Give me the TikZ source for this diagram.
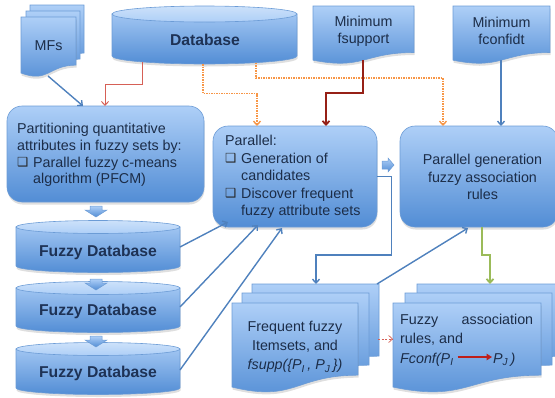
\documentclass[tikz,border=0pt]{standalone}
\usepackage{fontspec}
\setmainfont{Liberation Sans}
\newfontfamily\djv{DejaVu Sans}
\usetikzlibrary{arrows.meta,shadows}
\definecolor{bxtop}{RGB}{174,207,247}
\definecolor{bxbot}{RGB}{82,141,213}
\definecolor{bxline}{RGB}{108,156,214}
\definecolor{txt}{RGB}{28,45,72}
\definecolor{txtb}{RGB}{30,50,85}
\definecolor{cblue}{RGB}{79,129,189}
\definecolor{cred}{RGB}{214,96,86}
\definecolor{corange}{RGB}{247,150,70}
\definecolor{cdred}{RGB}{150,32,22}
\definecolor{cgreen}{RGB}{155,187,89}
\definecolor{cyltopc}{RGB}{204,225,250}
\definecolor{inred}{RGB}{190,30,25}
\newcommand{\bul}{\makebox[16pt][l]{\raisebox{0.5pt}{\djv\fontsize{12.5}{12}\selectfont\color{black!85}❑}}}
% style, x1, top, x2, h
\newcommand{\docshape}[5]{%
  \path[#1] (#2,#3) -- (#4,#3) -- (#4,{#3+0.802*#5})
    .. controls ({(#2+#4)/2},{#3+0.802*#5}) and ({(#2+#4)/2},{#3+1.107*#5}) .. (#2,{#3+0.934*#5}) -- cycle;}
% x1, x2, top centre, bottom centre, ry
\newcommand{\cylshape}[5]{%
  \path[cylbody] (#1,#3) -- (#1,#4) arc[start angle=180,end angle=0,x radius={(#2-#1)/2},y radius=#5] -- (#2,#3) -- cycle;
  \path[cyltop] ({(#1+#2)/2},#3) ellipse[x radius={(#2-#1)/2},y radius=#5];}
\begin{document}
\begin{tikzpicture}[x=1pt,y=-1pt,
  font=\fontsize{14.3}{16.7}\selectfont, text=txt,
  shad/.style={drop shadow={shadow xshift=0.5pt,shadow yshift=-2.5pt,opacity=0.25}},
  box/.style={draw=bxline,line width=0.6pt,top color=bxtop,bottom color=bxbot,rounded corners=15pt,shad},
  doc/.style={draw=bxline,line width=0.6pt,top color=bxtop,bottom color=bxbot},
  docf/.style={doc,shad},
  cylbody/.style={draw=bxline,line width=0.6pt,top color=bxtop!85!bxbot,bottom color=bxbot,shad},
  cyltop/.style={draw=bxline,line width=0.6pt,top color=cyltopc,bottom color=bxtop},
  barrow/.style={draw=bxline,line width=0.5pt,top color=bxtop,bottom color=bxbot},
  dbtext/.style={font=\bfseries\fontsize{15.7}{18}\selectfont,text=txtb},
  tip/.style={-{Straight Barb[length=3.8pt,width=7pt]}},
  cb/.style={tip,draw=cblue,line width=1.4pt},
  cr/.style={tip,draw=cred,line width=1pt},
  co/.style={tip,draw=corange,line width=1.4pt,dash pattern=on 1.5pt off 1pt},
  cd/.style={tip,draw=cdred,line width=1.8pt},
  cg/.style={tip,draw=cgreen,line width=1.8pt}]
\useasboundingbox (0,0) rectangle (555,397);

% MFs stack
\docshape{doc}{30}{5}{84}{60}
\docshape{doc}{26}{11}{80}{60}
\docshape{docf}{21}{17}{76}{60}
\node (mfs) at (48.5,46) {MFs};

% Database cylinder
\cylshape{112}{297}{14}{56}{8}
\node[dbtext] (db) at (205,40) {Database};

% Minimum documents
\docshape{docf}{313}{6}{414}{58}
\node[align=center] (fsup) at (363.5,31) {Minimum\\fsupport};
\docshape{docf}{453}{6}{550}{58}
\node[align=center] (fconf) at (501.5,31) {Minimum\\fconfidt};

% Boxes
\node[box,minimum width=197pt,minimum height=96pt] (part) at (105.5,154) {};
\node[anchor=west,align=left,inner sep=0pt] (parttxt) at (17,155)
 {Partitioning quantitative\\attributes in fuzzy sets by:\\\bul Parallel fuzzy c-means\\\hspace*{16pt}algorithm (PFCM)};
\node[box,minimum width=164pt,minimum height=101pt] (par) at (295,176.5) {};
\node[anchor=west,align=left,inner sep=0pt,font=\fontsize{14.3}{17.5}\selectfont] (partxt) at (225,177)
 {Parallel:\\\bul Generation of\\\hspace*{16pt}candidates\\\bul Discover frequent\\\hspace*{16pt}fuzzy attribute sets};
\node[box,minimum width=158pt,minimum height=101pt] (gen) at (479,176.5) {};
\node[align=center,font=\fontsize{14.3}{17.2}\selectfont] (gentxt) at (482.5,177) {Parallel generation\\fuzzy association\\rules};

% Fuzzy database cylinders
\cylshape{16}{180}{227}{266}{6.5}
\node[dbtext] (fdb1) at (98,252) {Fuzzy Database};
\cylshape{16}{180}{288}{326}{6.5}
\node[dbtext] (fdb2) at (98,311) {Fuzzy Database};
\cylshape{16}{180}{349}{388}{6.5}
\node[dbtext] (fdb3) at (98,373) {Fuzzy Database};

% block arrows
\path[barrow] (90,206) -- (102,206) -- (102,210) -- (107,210) -- (96,217) -- (85,210) -- (90,210) -- cycle;
\path[barrow] (90,279) -- (102,279) -- (102,283) -- (107,283) -- (96,290) -- (85,283) -- (90,283) -- cycle;
\path[barrow] (90,336) -- (102,336) -- (102,340) -- (107,340) -- (96,347) -- (85,340) -- (90,340) -- cycle;
\path[barrow] (382,161) -- (388,161) -- (388,158) -- (394,165) -- (388,172) -- (388,169) -- (382,169) -- cycle;

% Frequent itemsets stack
\docshape{doc}{252}{284}{379}{90}
\docshape{doc}{242}{293}{369}{90}
\docshape{docf}{232}{303}{358}{90}
\node[align=center,font=\fontsize{14.3}{19.3}\selectfont] (freq) at (295,347)
 {Frequent fuzzy\\Itemsets, and\\\itshape fsupp(\{P\textsubscript{I}\,, P\textsubscript{J}\,\})};

% Fuzzy association rules stack
\docshape{doc}{417}{284}{565}{90}
\docshape{doc}{405}{293}{552}{90}
\docshape{docf}{393}{303}{541}{90}
\node[anchor=base west,inner sep=0pt] (r1) at (400,324) {\makebox[133pt][s]{Fuzzy association}};
\node[anchor=base west,inner sep=0pt] (r2) at (400,343.5) {rules, and};
\node[anchor=base west,inner sep=0pt] (r3a) at (400,363) {\itshape Fconf(P\textsubscript{I}};
\node[anchor=base west,inner sep=0pt] (r3b) at (493,363) {\itshape P\textsubscript{J}\,)};
\draw[inred,line width=1.8pt,-{Triangle[length=5.5pt,width=6.5pt]}] ([xshift=4pt,yshift=6pt]r3a.base east) -- ([xshift=-1pt,yshift=6pt]r3b.base west);

% connector end points
\coordinate (mfs-o) at (48,76);
\coordinate (part-i1) at (83,106);
\coordinate (db-o1) at (142,62);
\coordinate (part-i2) at (105,106);
\coordinate (db-o2) at (203,64);
\coordinate (par-i1) at (257,126);
\coordinate (db-o3) at (256,62.6);
\coordinate (gen-i1) at (443,126);
\coordinate (fs-o) at (363,60);
\coordinate (par-i2) at (326,126);
\coordinate (fc-o) at (501,60);
\coordinate (gen-i2) at (501,126);
\coordinate (freq-i) at (316,284);
\coordinate (freq-o) at (377,284);
\coordinate (gen-i3) at (468,228);
\coordinate (gen-o) at (482,227);
\coordinate (rules-i) at (490,284);
\coordinate (freq-o2) at (378,339);
\coordinate (rules-i2) at (393,339);
\coordinate (f1-o) at (180,247);
\coordinate (par-i3) at (228,222);
\coordinate (f2-o) at (180,307);
\coordinate (par-i4) at (258,225);
\coordinate (f3-o) at (180,370);
\coordinate (par-i5) at (282,228);

% connectors
\draw[cb] (mfs-o) -- (part-i1);
\draw[cr] (db-o1) -- ++(0,22) -| (part-i2);
\draw[co] (db-o2) -- ++(0,29.5) -| (par-i1);
\draw[co] (db-o3) -- ++(0,15.5) -| (gen-i1);
\draw[cd] (fs-o) -- ++(0,33) -| (par-i2);
\draw[cb] (fc-o) -- (gen-i2);
\draw[cb] (par.east) -- ++(14,0) -- ++(0,78.5) -| (freq-i);
\draw[cb] (freq-o) -- (gen-i3);
\draw[cg] (gen-o) -- ++(0,28) -| (rules-i);
\draw[tip,draw=cred,line width=0.7pt,dash pattern=on 2pt off 1.5pt] (freq-o2) -- (rules-i2);
\draw[cb] (f1-o) -- (par-i3);
\draw[cb] (f2-o) -- (par-i4);
\draw[cb] (f3-o) -- (par-i5);
\end{tikzpicture}
\end{document}
